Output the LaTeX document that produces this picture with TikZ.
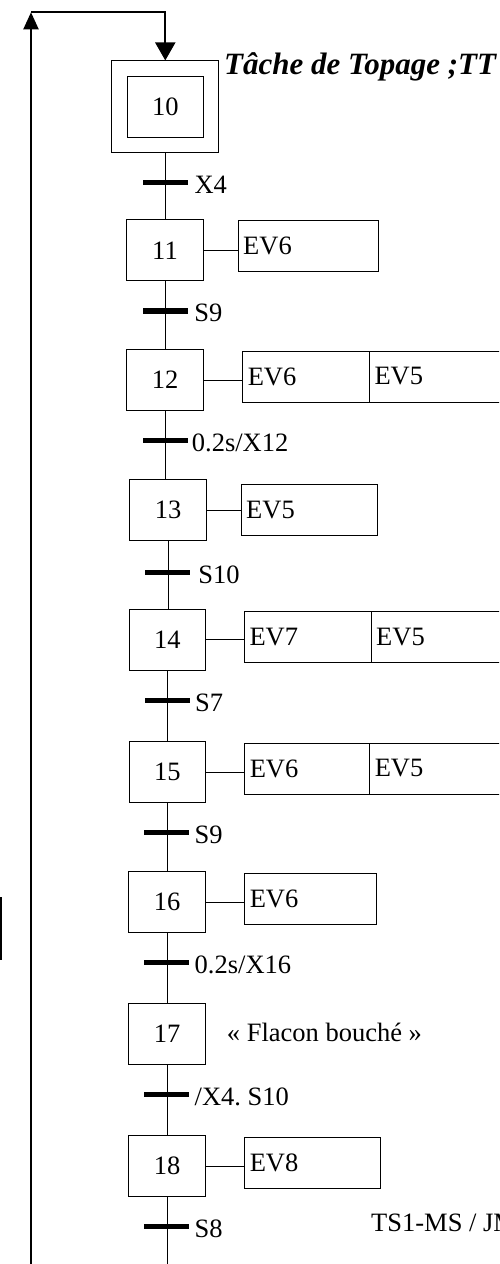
\documentclass[tikz,border=0pt]{standalone}
\usepackage{fontspec}
\setmainfont{Liberation Serif}
\usetikzlibrary{arrows.meta}
\frenchspacing
\begin{document}
\begin{tikzpicture}[x=1pt,y=-1pt,
  body/.style={font=\fontsize{26.5}{31}\selectfont},
  stepbox/.style={draw, line width=1pt, minimum width=76.6pt, minimum height=61pt,
    inner sep=0pt, body},
  initbox/.style={draw, line width=1pt, minimum width=107.3pt, minimum height=91.7pt,
    inner sep=0pt},
  actbox/.style={draw, line width=1pt, minimum height=51pt, inner xsep=5pt,
    inner ysep=0pt, align=left, anchor=west, body},
  bar/.style={fill=black, minimum width=45pt, minimum height=5.5pt, inner sep=0pt},
  cond/.style={anchor=base west, inner sep=0pt, body},
  link/.style={line width=1pt},
  loopline/.style={line width=2pt},
  title/.style={anchor=base west, inner sep=0pt,
    font=\fontsize{31}{37}\selectfont\bfseries\itshape},
]
\useasboundingbox (0,0) rectangle (499,1264);
\fill[white] (0,0) rectangle (499,1264);
\clip (0,0) rectangle (499,1264);

% initial step
\node[initbox] (s10o) at (165.3,106.8) {};
\node[stepbox] (s10) at (s10o.center) {10};

% steps
\node[stepbox] (s11) at (165,250.3) {11};
\node[stepbox] (s12) at (165,380) {12};
\node[stepbox] (s13) at (168,510) {13};
\node[stepbox] (s14) at (167.3,639.7) {14};
\node[stepbox] (s15) at (167.3,772) {15};
\node[stepbox] (s16) at (167,902.3) {16};
\node[stepbox] (s17) at (167,1034) {17};
\node[stepbox] (s18) at (167,1166.2) {18};

% actions
\node[actbox, text width=130pt] (a11) at (237.7,245.5) {EV6};
\node[actbox, text width=116.7pt] (a12a) at (242.3,376.5) {EV6};
\node[actbox, text width=150pt] (a12b) at (369,376.5) {EV5};
\node[actbox, text width=126pt] (a13) at (240.7,509.7) {EV5};
\node[actbox, text width=116.7pt] (a14a) at (244,636.7) {EV7};
\node[actbox, text width=150pt] (a14b) at (370.7,636.7) {EV5};
\node[actbox, text width=115pt] (a15a) at (244.3,768.5) {EV6};
\node[actbox, text width=150pt] (a15b) at (369.3,768.5) {EV5};
\node[actbox, text width=121.7pt] (a16) at (244.3,899) {EV6};
\node[body, anchor=base west, inner sep=0pt] (a17) at (226.7,1041.7) {« Flacon bouché »};
\node[actbox, text width=125.7pt] (a18) at (244.3,1163) {EV8};

% step to action links
\foreach \s/\a in {s11/a11, s12/a12a, s13/a13, s14/a14a, s15/a15a, s16/a16, s18/a18}
  \draw[link] (\s.east) -- (\s.east -| \a.west);

% vertical links between steps
\coordinate (bot) at (167,1264);
\draw[link] (s10o.south) -- (s10o.south |- s11.north);
\draw[link] (s11.south) -- (s11.south |- s12.north);
\draw[link] (s12.south) -- (s12.south |- s13.north);
\draw[link] (s13.south) -- (s13.south |- s14.north);
\draw[link] (s14.south) -- (s14.south |- s15.north);
\draw[link] (s15.south) -- (s15.south |- s16.north);
\draw[link] (s16.south) -- (s16.south |- s17.north);
\draw[link] (s17.south) -- (s17.south |- s18.north);
\draw[link] (s18.south) -- (s18.south |- bot);

% transitions and receptivities
\node[bar] (t10) at (165.2,182.7) {};
\node[cond] at ([xshift=6.5pt,yshift=-10.7pt]t10.east) {X4};
\node[bar] (t11) at (165,311) {};
\node[cond] at ([xshift=6.5pt,yshift=-10.7pt]t11.east) {S9};
\node[bar] (t12) at (165,440.7) {};
\node[cond] at ([xshift=4pt,yshift=-10.7pt]t12.east) {0.2s/X12};
\node[bar] (t13) at (167.5,572.3) {};
\node[cond] at ([xshift=8pt,yshift=-10.7pt]t13.east) {S10};
\node[bar] (t14) at (167.2,700.7) {};
\node[cond] at ([xshift=5pt,yshift=-10.7pt]t14.east) {S7};
\node[bar] (t15) at (166.8,832.3) {};
\node[cond] at ([xshift=5pt,yshift=-10.7pt]t15.east) {S9};
\node[bar] (t16) at (166.8,962.7) {};
\node[cond] at ([xshift=5pt,yshift=-10.7pt]t16.east) {0.2s/X16};
\node[bar] (t17) at (166.8,1094.7) {};
\node[cond] at ([xshift=5pt,yshift=-10.7pt]t17.east) {/X4. S10};
\node[bar] (t18) at (166.8,1226.7) {};
\node[cond] at ([xshift=5pt,yshift=-10.7pt]t18.east) {S8};

% return loop to the initial step
\coordinate (lb) at (31,1264);
\coordinate (lt) at (31,12.3);
\draw[loopline, -{Triangle[width=15pt,length=17pt]}] (lb) -- (lt);
\draw[loopline, -{Triangle[width=20pt,length=18pt]}] (lt) -- (lt -| s10o.north) -- (s10o.north);

% margin mark
\fill (0,897.3) rectangle (2.4,960);

% headings
\node[title] (ttl) at (224,74) {Tâche de Topage ;TT};
\node[body, anchor=base west, inner sep=0pt] (foot) at (371,1231.7) {TS1-MS / JM};
\end{tikzpicture}
\end{document}
